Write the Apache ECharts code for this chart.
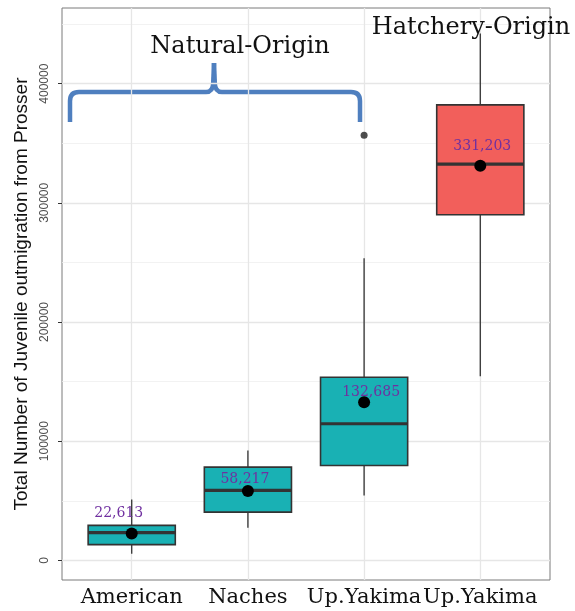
<!DOCTYPE html>
<html><head><meta charset="utf-8">
<script src="https://cdn.jsdelivr.net/npm/echarts@6/dist/echarts.min.js"></script>
<style>html,body{margin:0;padding:0;background:#fff}#c{width:575px;height:611px}</style>
</head><body><div id="c"></div>
<script>
// ---- data ----
const categories = ['American', 'Naches', 'Up.Yakima', 'Up.Yakima'];
const origin = ['Natural', 'Natural', 'Natural', 'Hatchery'];
const whiskerMin = [5600, 27400, 54500, 154500];
const q1 = [13200, 40500, 79600, 290000];
const median = [23200, 58700, 114600, 332500];
const q3 = [29300, 78200, 153600, 382200];
const whiskerMax = [51100, 92200, 253400, 442000];
const means = [22613, 58217, 132685, 331203];
const outlierCategoryIndex = [2];
const outlierValues = [356800];
const yTicks = [0, 100000, 200000, 300000, 400000];
const yMinorGrid = [50000, 150000, 250000, 350000, 450000];
const groupLabels = ['Natural-Origin', 'Hatchery-Origin'];
const yTitle = 'Total Number of Juvenile outmigration from Prosser';

// ---- styles ----
const fillColor = { Natural: '#19b1b4', Hatchery: '#f25f5b' };
const meanLabelOffsets = [[-13, -20], [-3, -12], [7, -10], [2, -19]];
const serif = '"DejaVu Serif", serif';

const pos = categories.map((c, i) => i + 1);

const boxData = categories.map((c, i) => ({
  value: [pos[i], whiskerMin[i], q1[i], median[i], q3[i], whiskerMax[i]],
  itemStyle: { color: fillColor[origin[i]] }
}));

const meanData = categories.map((c, i) => ({
  value: [pos[i], means[i]],
  label: { offset: meanLabelOffsets[i] }
}));

const outlierData = outlierCategoryIndex.map((ci, k) => [pos[ci], outlierValues[k]]);

const gridStyleMajor = { color: '#e6e6e6', width: 1.3, type: 'solid' };
const gridStyleMinor = { color: '#efefef', width: 0.8, type: 'solid' };

const braceStyle = { stroke: '#4f7fbf', lineWidth: 4.5, fill: null, lineCap: 'butt' };
const braceParts = [
  { type: 'line', shape: { x1: 70, y1: 122, x2: 70, y2: 101 } },
  { type: 'bezierCurve', shape: { x1: 70, y1: 101, cpx1: 70, cpy1: 92, x2: 79, y2: 92 } },
  { type: 'line', shape: { x1: 79, y1: 92, x2: 206, y2: 92 } },
  { type: 'bezierCurve', shape: { x1: 206, y1: 92, cpx1: 213, cpy1: 92, x2: 213.2, y2: 83 } },
  { type: 'line', shape: { x1: 213.2, y1: 83, x2: 214, y2: 63 } },
  { type: 'line', shape: { x1: 214, y1: 63, x2: 214.8, y2: 83 } },
  { type: 'bezierCurve', shape: { x1: 214.8, y1: 83, cpx1: 215, cpy1: 92, x2: 222, y2: 92 } },
  { type: 'line', shape: { x1: 222, y1: 92, x2: 351, y2: 92 } },
  { type: 'bezierCurve', shape: { x1: 351, y1: 92, cpx1: 360, cpy1: 92, x2: 360, y2: 101 } },
  { type: 'line', shape: { x1: 360, y1: 101, x2: 360, y2: 122 } }
].map(p => Object.assign(p, { style: braceStyle }));

const chart = echarts.init(document.getElementById('c'), null, { renderer: 'canvas' });

const option = {
  animation: false,
  backgroundColor: '#fff',
  grid: { left: 62, right: 25, top: 8, bottom: 31, show: true, borderColor: '#7a7a7a', borderWidth: 1, backgroundColor: 'transparent' },
  xAxis: {
    type: 'value', min: 0.4, max: 4.6,
    axisLine: { show: false },
    splitLine: { show: false },
    axisTick: { show: true, customValues: pos, length: 4, lineStyle: { color: '#333', width: 1 } },
    axisLabel: {
      customValues: pos, margin: 7, showMinLabel: true, showMaxLabel: true, hideOverlap: false,
      formatter: v => categories[Math.round(v) - 1] || '',
      fontFamily: serif, fontSize: 21, color: '#111'
    }
  },
  yAxis: {
    type: 'value', min: -16500, max: 463500,
    axisLine: { show: false },
    splitLine: { show: false },
    axisTick: { show: true, customValues: yTicks, length: 4, lineStyle: { color: '#333', width: 1 } },
    axisLabel: {
      customValues: yTicks, rotate: 90, margin: 11,
      formatter: v => String(v),
      fontFamily: '"Liberation Sans", Arial, sans-serif', fontSize: 12, color: '#4d4d4d'
    },
    name: yTitle, nameLocation: 'middle', nameRotate: 90, nameGap: 30,
    nameTextStyle: { fontFamily: '"Liberation Sans", Arial, sans-serif', fontSize: 19, color: '#111' }
  },
  series: [
    {
      type: 'scatter', data: [], z: 0, silent: true,
      markLine: {
        silent: true, symbol: 'none', label: { show: false }, animation: false,
        lineStyle: gridStyleMinor,
        data: yMinorGrid.map(v => ({ yAxis: v }))
      }
    },
    {
      type: 'scatter', data: [], z: 1, silent: true,
      markLine: {
        silent: true, symbol: 'none', label: { show: false }, animation: false,
        lineStyle: gridStyleMajor,
        data: yTicks.map(v => ({ yAxis: v })).concat(pos.map(p => ({ xAxis: p })))
      }
    },
    {
      type: 'custom', z: 5,
      data: boxData,
      encode: { x: 0, y: [1, 2, 3, 4, 5] },
      renderItem: function (params, api) {
        const x = api.value(0);
        const pMin = api.coord([x, api.value(1)]);
        const pQ1 = api.coord([x, api.value(2)]);
        const pMed = api.coord([x, api.value(3)]);
        const pQ3 = api.coord([x, api.value(4)]);
        const pMax = api.coord([x, api.value(5)]);
        const half = api.size([0.75, 0])[0] / 2;
        const stroke = '#333';
        return {
          type: 'group',
          children: [
            { type: 'line', shape: { x1: pMin[0], y1: pMin[1], x2: pQ1[0], y2: pQ1[1] }, style: { stroke, lineWidth: 1.3 } },
            { type: 'line', shape: { x1: pQ3[0], y1: pQ3[1], x2: pMax[0], y2: pMax[1] }, style: { stroke, lineWidth: 1.3 } },
            { type: 'rect', shape: { x: pQ3[0] - half, y: pQ3[1], width: half * 2, height: pQ1[1] - pQ3[1] },
              style: { fill: api.visual('color'), stroke, lineWidth: 1.6 } },
            { type: 'line', shape: { x1: pMed[0] - half, y1: pMed[1], x2: pMed[0] + half, y2: pMed[1] }, style: { stroke, lineWidth: 3.2 } }
          ]
        };
      }
    },
    {
      type: 'scatter', z: 6, data: outlierData, symbolSize: 7,
      itemStyle: { color: '#222' }
    },
    {
      type: 'scatter', z: 7, data: meanData, symbolSize: 12,
      itemStyle: { color: '#000', opacity: 1 },
      label: {
        show: true, position: 'inside',
        formatter: p => p.value[1].toLocaleString('en-US'),
        fontFamily: serif, fontSize: 14, color: '#7030a0'
      }
    }
  ],
  graphic: [
    { type: 'group', z: 100, children: braceParts },
    {
      type: 'text', z: 100, x: 240, y: 47,
      style: { text: groupLabels[0], font: '24px ' + serif, fill: '#111', align: 'center', verticalAlign: 'middle', textAlign: 'center', textVerticalAlign: 'middle' }
    },
    {
      type: 'text', z: 100, x: 471, y: 28,
      style: { text: groupLabels[1], font: '24px ' + serif, fill: '#111', align: 'center', verticalAlign: 'middle', textAlign: 'center', textVerticalAlign: 'middle' }
    }
  ]
};
chart.setOption(option);
</script>
</body></html>
